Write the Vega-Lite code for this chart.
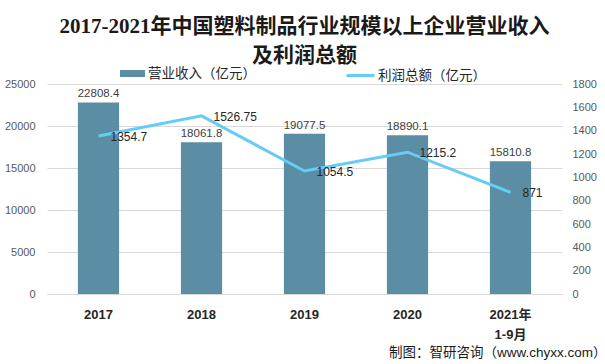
{
  "$schema": "https://vega.github.io/schema/vega-lite/v6.json",
  "width": 515,
  "height": 210,
  "autosize": {"type": "none"},
  "padding": {"left": 47, "top": 84, "right": 43, "bottom": 70},
  "background": "white",
  "config": {"view": {"stroke": null}, "font": "Liberation Sans, Noto Sans CJK SC"},
  "title": {
    "text": ["2017-2021年中国塑料制品行业规模以上企业营业收入", "及利润总额"],
    "font": "Liberation Serif, Noto Sans CJK SC",
    "fontSize": 21,
    "fontWeight": "bold",
    "color": "#1a1a1a",
    "anchor": "middle",
    "lineHeight": 29,
    "offset": -6
  },
  "data": {
    "values": [
      {"year": "2017", "revenue": 22808.4, "profit": 1354.7, "rl": "22808.4", "pl": "1354.7", "s1": "营业收入（亿元）", "s2": "利润总额（亿元）"},
      {"year": "2018", "revenue": 18061.8, "profit": 1526.75, "rl": "18061.8", "pl": "1526.75", "s1": "营业收入（亿元）", "s2": "利润总额（亿元）"},
      {"year": "2019", "revenue": 19077.5, "profit": 1054.5, "rl": "19077.5", "pl": "1054.5", "s1": "营业收入（亿元）", "s2": "利润总额（亿元）"},
      {"year": "2020", "revenue": 18890.1, "profit": 1215.2, "rl": "18890.1", "pl": "1215.2", "s1": "营业收入（亿元）", "s2": "利润总额（亿元）"},
      {"year": "2021年\n1-9月", "revenue": 15810.8, "profit": 871, "rl": "15810.8", "pl": "871", "s1": "营业收入（亿元）", "s2": "利润总额（亿元）"}
    ]
  },
  "encoding": {
    "x": {
      "field": "year", "type": "nominal", "sort": null,
      "scale": {"paddingInner": 0.6, "paddingOuter": 0.3},
      "axis": {
        "title": "制图：智研咨询（www.chyxx.com）",
        "titleFontSize": 13.5, "titleFontWeight": "normal", "titleColor": "#1a1a1a",
        "titleAlign": "right", "titleAnchor": "end", "titleX": 559, "titleY": 58, "titleBaseline": "middle",
        "labelAngle": 0, "ticks": false,
        "domainColor": "#d9d9d9", "labelFontSize": 13, "labelFontWeight": "bold",
        "labelColor": "#262626", "labelPadding": 14, "labelLineHeight": 20,
        "labelExpr": "split(datum.label, '\\n')"
      }
    }
  },
  "layer": [
    {
      "encoding": {
        "y": {
          "field": "revenue", "type": "quantitative",
          "scale": {"domain": [0, 25000]},
          "axis": {
            "title": null, "values": [0, 5000, 10000, 15000, 20000, 25000], "format": "d",
            "domain": false, "ticks": false, "gridColor": "#d9d9d9",
            "labelColor": "#595959", "labelFontSize": 11, "labelPadding": 12
          }
        }
      },
      "layer": [
        {
          "mark": {"type": "bar", "color": "#5B8DA5"},
          "encoding": {
            "fill": {
              "field": "s1", "type": "nominal",
              "scale": {"range": ["#5B8DA5"]},
              "legend": {
                "title": null, "orient": "none", "legendX": 72, "legendY": -24,
                "symbolType": "M-1,-0.28H1V0.28H-1Z", "symbolSize": 625,
                "labelFontSize": 13.5, "labelColor": "#262626", "labelOffset": 2
              }
            }
          }
        },
        {
          "mark": {"type": "text", "dy": -8, "fontSize": 11.5, "color": "#404040"},
          "encoding": {
            "text": {"field": "rl"}
          }
        }
      ]
    },
    {
      "encoding": {
        "y": {
          "field": "profit", "type": "quantitative",
          "scale": {"domain": [0, 1800]},
          "axis": {
            "title": null, "orient": "right",
            "values": [0, 200, 400, 600, 800, 1000, 1200, 1400, 1600, 1800], "format": "d",
            "labelOverlap": false,
            "domain": false, "ticks": false, "grid": false,
            "labelColor": "#595959", "labelFontSize": 11, "labelPadding": 10
          }
        }
      },
      "layer": [
        {
          "mark": {"type": "line", "strokeWidth": 3},
          "encoding": {
            "stroke": {
              "field": "s2", "type": "nominal",
              "scale": {"range": ["#66CCF5"]},
              "legend": {
                "title": null, "orient": "none", "legendX": 298, "legendY": -24,
                "symbolType": "stroke", "symbolStrokeWidth": 3, "symbolSize": 784,
                "labelFontSize": 13.5, "labelColor": "#262626", "labelOffset": 2
              }
            }
          }
        },
        {
          "mark": {"type": "text", "align": "left", "dx": 12, "dy": 1, "fontSize": 12, "color": "#262626"},
          "encoding": {
            "text": {"field": "pl"}
          }
        }
      ]
    }
  ],
  "resolve": {"scale": {"y": "independent", "fill": "independent", "stroke": "independent"}}
}
